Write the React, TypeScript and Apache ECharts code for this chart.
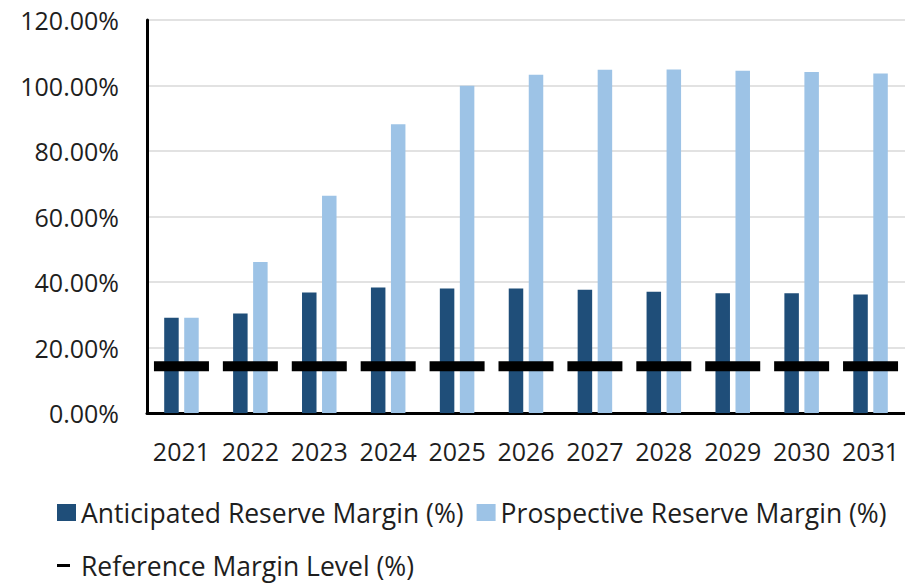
import React, { useEffect, useRef } from "react";
import * as echarts from "echarts";

const years = ["2021", "2022", "2023", "2024", "2025", "2026", "2027", "2028", "2029", "2030", "2031"];
const anticipated = [29.1, 30.4, 36.8, 38.3, 38.0, 38.0, 37.6, 37.0, 36.6, 36.6, 36.2];
const prospective = [29.1, 46.1, 66.3, 88.2, 99.9, 103.3, 104.8, 104.9, 104.5, 104.1, 103.7];
const referenceLevel = [14.3, 14.3, 14.3, 14.3, 14.3, 14.3, 14.3, 14.3, 14.3, 14.3, 14.3];

const FONT = "Open Sans";
const TEXT_COLOR = "#1e1e1e";

export default function App() {
  const ref = useRef<HTMLDivElement>(null);
  useEffect(() => {
    if (!ref.current) return;
    const chart = echarts.init(ref.current, null, { renderer: "svg" });
    chart.setOption({
      animation: false,
      backgroundColor: "#ffffff",
      textStyle: { fontFamily: FONT },
      grid: { left: 147, right: -2, top: 20, bottom: 171, containLabel: false },
      legend: [
        {
          left: 57,
          top: 499,
          padding: 0,
          itemWidth: 19,
          itemHeight: 17,
          itemGap: 13,
          icon: "rect",
          data: ["Anticipated Reserve Margin (%)", "Prospective Reserve Margin (%)"],
          textStyle: { fontFamily: FONT, fontSize: 26.5, color: TEXT_COLOR },
        },
        {
          left: 57,
          top: 552,
          padding: 0,
          itemWidth: 13,
          itemHeight: 3,
          icon: "rect",
          data: ["Reference Margin Level (%)"],
          textStyle: { fontFamily: FONT, fontSize: 26.5, color: TEXT_COLOR, padding: [0, 0, 0, 6] },
        },
      ],
      xAxis: {
        type: "category",
        data: years,
        axisTick: { show: false },
        axisLine: { show: true, lineStyle: { color: "#000", width: 3 } },
        axisLabel: { interval: 0, fontFamily: FONT, fontSize: 25, color: TEXT_COLOR, margin: 25 },
        splitLine: { show: false },
      },
      yAxis: {
        type: "value",
        min: 0,
        max: 120,
        interval: 20,
        axisLine: { show: true, lineStyle: { color: "#000", width: 3 } },
        axisTick: { show: false },
        axisLabel: {
          fontFamily: FONT,
          fontSize: 25,
          color: TEXT_COLOR,
          margin: 28,
          formatter: (v: number) => v.toFixed(2) + "%",
        },
        splitLine: { show: true, lineStyle: { color: "#d9d9d9", width: 1.5 } },
      },
      series: [
        {
          name: "Anticipated Reserve Margin (%)",
          type: "bar",
          data: anticipated,
          barWidth: 14.5,
          barGap: "38%",
          itemStyle: { color: "#1f4e79" },
        },
        {
          name: "Prospective Reserve Margin (%)",
          type: "bar",
          data: prospective,
          barWidth: 14.5,
          itemStyle: { color: "#9dc3e6" },
        },
        {
          name: "Reference Margin Level (%)",
          type: "scatter",
          data: referenceLevel,
          symbol: "rect",
          symbolSize: [55, 10],
          itemStyle: { color: "#000000", opacity: 1 },
          z: 5,
        },
      ],
    });
    return () => chart.dispose();
  }, []);
  return (
    <div
      ref={ref}
      style={{ position: "fixed", left: 0, top: 0, width: 905, height: 584 }}
    />
  );
}
